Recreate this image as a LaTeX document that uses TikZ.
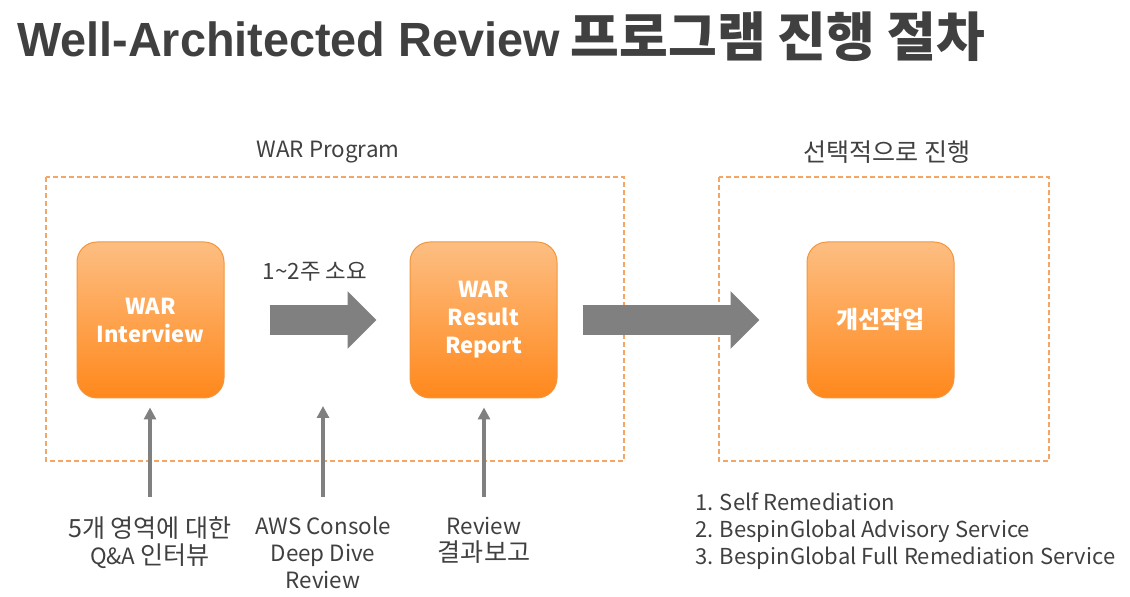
\documentclass[tikz,border=0pt]{standalone}
\usepackage{fontspec}
\setmainfont{Noto Sans CJK KR}
\newfontfamily\titlelatin{Liberation Sans}
\newfontfamily\korfont{Noto Sans CJK KR}[Scale=1.12]
\newcommand\kr[1]{{\korfont #1}}
\usetikzlibrary{arrows.meta,positioning}
\definecolor{WarOrangeTop}{RGB}{253,190,130}
\definecolor{WarOrangeBot}{RGB}{255,136,28}
\definecolor{WarEdge}{RGB}{242,150,62}
\definecolor{DashOrange}{RGB}{244,166,102}
\definecolor{ArrowGray}{RGB}{128,128,128}
\definecolor{TextGray}{RGB}{64,64,64}

\begin{document}
\begin{tikzpicture}[
        x=0.5pt,y=-0.5pt,
        every node/.style={font=\fontsize{11.2pt}{13.5pt}\selectfont,text=TextGray},
        stepBox/.style={rounded corners=10pt,minimum width=73.5pt,minimum height=78pt,
          top color=WarOrangeTop,bottom color=WarOrangeBot,draw=WarEdge,line width=0.5pt,
          align=center,text=white,font=\fontsize{11pt}{14pt}\selectfont\bfseries},
        groupBox/.style={draw=DashOrange,line width=0.8pt,dash pattern=on 2.5pt off 1.5pt},
        blockArrow/.style={draw=ArrowGray,line width=15pt,
          -{Triangle[length=14.5pt,width=28pt]}},
        upArrow/.style={draw=ArrowGray,line width=1.8pt,
          -{Triangle[length=6pt,width=6pt]}}]
        \useasboundingbox (0,0) rectangle (1130,597);
        % title
        \node[anchor=west,font=\fontsize{24pt}{28pt}\selectfont\bfseries] (title) at (10,37)
          {{\titlelatin\scalebox{0.975}[1]{Well-Architected Review}}
           {\fontsize{26.5pt}{28pt}\selectfont 프로그램 진행 절차}};
        % dashed groups
        \draw[groupBox] (46,177) rectangle (624,461);
        \draw[groupBox] (719,177) rectangle (1049,461);
        \node (warLbl) at (328,152) {WAR Program};
        \node (optLbl) at (887,152) {\kr{선택적으로 진행}};
        % steps
        \node[stepBox] (intv) at (150.5,320) {WAR\\Interview};
        \node[stepBox] (rep) at (483.5,320) {WAR\\Result\\Report};
        \node[stepBox,font=\fontsize{12pt}{14pt}\selectfont\bfseries] (impr) at (880.5,320) {개선작업};
        \draw[blockArrow,shorten <=22.5pt,shorten >=16.5pt] (intv) -- (rep);
        \draw[blockArrow,shorten <=12.5pt,shorten >=23.5pt] (rep) -- (impr);
        \node (dur) at (315,272) {1\textasciitilde 2주 소요};
        % inputs
        \node[anchor=north,align=center] (qaLbl) at (150,510) {\kr{5개 영역에 대한}\\Q\&A \kr{인터뷰}};
        \node[anchor=north,align=center] (awsLbl) at (323,510) {AWS Console\\Deep Dive\\Review};
        \node[anchor=north,align=center] (resLbl) at (484,510) {Review\\\kr{결과보고}};
        \coordinate (awsTop) at (323,406);
        \draw[upArrow,shorten <=6.5pt,shorten >=4.5pt] (qaLbl.north) -- (intv.south -| qaLbl.north);
        \draw[upArrow,shorten <=6.5pt] (awsLbl.north) -- (awsTop);
        \draw[upArrow,shorten <=6.5pt,shorten >=4.5pt] (resLbl.north) -- (rep.south -| resLbl.north);
        % options
        \node[anchor=north west,align=left,font=\fontsize{11pt}{13.5pt}\selectfont] (optList) at (688,486)
          {1. Self Remediation\\2. BespinGlobal Advisory Service\\3. BespinGlobal Full Remediation Service};
      \end{tikzpicture}
\end{document}
